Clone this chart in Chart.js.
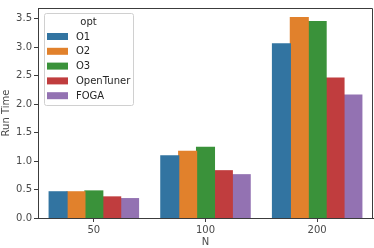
<!DOCTYPE html>
<html>
<head>
<meta charset="utf-8">
<script src="https://cdn.jsdelivr.net/npm/chart.js@4"></script>
<style>
  html, body { margin: 0; padding: 0; background: #fff; }
  #wrap { width: 374px; height: 248px; }
</style>
</head>
<body>
<div id="wrap"><canvas id="chart" width="374" height="248"></canvas></div>
<script>
const categories = ['50', '100', '200'];
const seriesNames = ['O1', 'O2', 'O3', 'OpenTuner', 'FOGA'];
const o1        = [0.46, 1.09, 3.06];
const o2        = [0.46, 1.17, 3.52];
const o3        = [0.475, 1.24, 3.45];
const openTuner = [0.37, 0.83, 2.46];
const foga      = [0.34, 0.76, 2.16];
const yTicks    = [0, 0.5, 1, 1.5, 2, 2.5, 3, 3.5];

const colors = ['#3274a1', '#e1812c', '#3a923a', '#c03d3e', '#9372b2'];
const values = [o1, o2, o3, openTuner, foga];
const axisColor = '#3c3c3c';
const textColor = '#4a4a4a';
const font = { family: 'DejaVu Sans', size: 10 };

// legend + top/right spines drawn by hand (matplotlib-like)
const boxPlugin = {
  id: 'boxLegend',
  afterDraw(chart) {
    const c = chart.ctx, a = chart.chartArea;
    c.save();
    c.strokeStyle = axisColor;
    c.lineWidth = 1;
    c.beginPath();
    c.moveTo(a.left, a.top + 0.5);
    c.lineTo(a.right - 0.5, a.top + 0.5);
    c.lineTo(a.right - 0.5, a.bottom);
    c.stroke();

    // legend box
    const x = a.left + 6, y = a.top + 5, w = 89, h = 92;
    c.fillStyle = 'rgba(255,255,255,0.8)';
    c.strokeStyle = '#d0d0d0';
    c.beginPath();
    c.roundRect(x + 0.5, y + 0.5, w, h, 2);
    c.fill();
    c.stroke();

    c.font = '10px "DejaVu Sans"';
    c.fillStyle = '#262626';
    c.textBaseline = 'middle';
    c.textAlign = 'center';
    c.fillText('opt', x + w / 2, y + 9);
    c.textAlign = 'left';
    chart.data.datasets.forEach((ds, i) => {
      const ry = y + 23.5 + i * 14.8;
      c.fillStyle = ds.backgroundColor;
      c.fillRect(x + 3, ry - 3.5, 21, 7);
      c.fillStyle = '#262626';
      c.fillText(ds.label, x + 32, ry + 0.5);
    });
    c.restore();
  }
};

new Chart(document.getElementById('chart'), {
  type: 'bar',
  data: {
    labels: categories,
    datasets: seriesNames.map((name, i) => ({
      label: name,
      data: values[i],
      backgroundColor: colors[i],
      borderWidth: 0,
      inflateAmount: 0.6,
      categoryPercentage: 0.8,
      barPercentage: 1.0
    }))
  },
  options: {
    responsive: false,
    animation: false,
    layout: { padding: { top: 1, right: 1, left: 0, bottom: 0 } },
    plugins: { legend: { display: false }, tooltip: { enabled: false } },
    scales: {
      x: {
        grid: { offset: false, drawOnChartArea: false, drawTicks: true, tickLength: 4, tickColor: axisColor },
        border: { display: true, color: axisColor, width: 1 },
        ticks: { color: textColor, font: font, padding: 2 },
        title: { display: true, text: 'N', color: textColor, font: font, padding: { top: 0, bottom: 0 } },
        afterFit(s) { s.height = 30; }
      },
      y: {
        min: 0,
        max: 3.69,
        afterBuildTicks(s) { s.ticks = yTicks.map(v => ({ value: v })); },
        grid: { drawOnChartArea: false, drawTicks: true, tickLength: 4, tickColor: axisColor },
        border: { display: true, color: axisColor, width: 1 },
        ticks: { color: textColor, font: font, padding: 2, callback: v => v.toFixed(1) },
        title: { display: true, text: 'Run Time', color: textColor, font: font, padding: { top: 0, bottom: 3 } },
        afterFit(s) { s.width = 38; }
      }
    }
  },
  plugins: [boxPlugin]
});
</script>
</body>
</html>
